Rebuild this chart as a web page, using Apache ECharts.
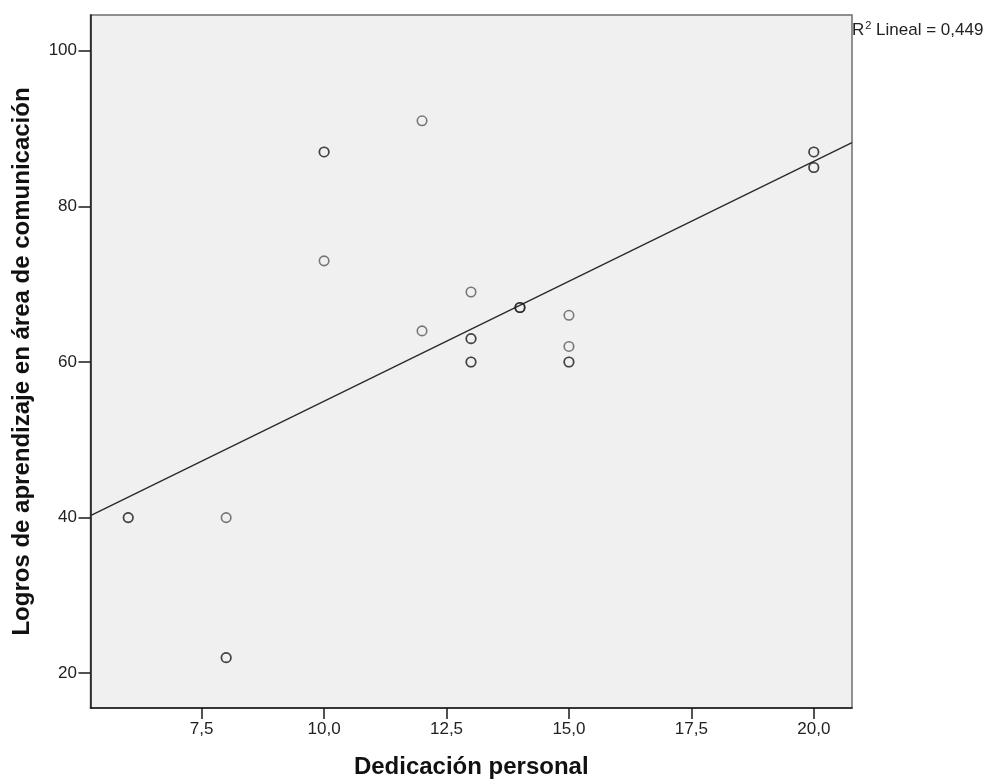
<!DOCTYPE html>
<html>
<head>
<meta charset="utf-8">
<script src="https://cdn.jsdelivr.net/npm/echarts@6/dist/echarts.min.js"></script>
<style>
html,body{margin:0;padding:0;background:#fff;}
#main{width:987px;height:784px;}
</style>
</head>
<body>
<div id="main"></div>
<script>
// Data (repeated entries = overlapping cases)
var dedicacion = [6, 6, 8, 8, 8, 10, 10, 10, 12, 12, 13, 13, 13, 13, 13, 14, 14, 14, 15, 15, 15, 15, 20, 20, 20, 20];
var logros     = [40, 40, 40, 22, 22, 87, 87, 73, 91, 64, 69, 63, 63, 60, 60, 67, 67, 67, 66, 62, 60, 60, 87, 87, 85, 85];
// Fit line endpoints (R² Lineal = 0,449)
var fitX = [5.23, 20.78];
var fitY = [40.25, 88.2];
var xTicks = [7.5, 10, 12.5, 15, 17.5, 20];
var yTicks = [20, 40, 60, 80, 100];
var xRange = [5.23, 20.78];
var yRange = [15.53, 104.6];
var r2Text = 'Lineal = 0,449';
var xTitle = 'Dedicación personal';
var yTitle = 'Logros de aprendizaje en área de comunicación';

var points = dedicacion.map(function (d, i) { return [d, logros[i]]; });
var fitLine = fitX.map(function (x, i) { return [x, fitY[i]]; });

var chart = echarts.init(document.getElementById('main'), null, {renderer: 'canvas'});
var fontFam = '"Liberation Sans", Arial, sans-serif';
chart.setOption({
  animation: false,
  backgroundColor: '#ffffff',
  grid: {
    left: 90.5, top: 15, right: 135, bottom: 71,
    show: true, backgroundColor: '#f0f0f0', borderColor: '#6e6e6e', borderWidth: 1.5
  },
  xAxis: {
    type: 'value', min: xRange[0], max: xRange[1],
    name: xTitle, nameLocation: 'middle', nameGap: 47,
    nameTextStyle: {fontFamily: fontFam, fontSize: 24, fontWeight: 'bold', color: '#111'},
    axisLine: {show: true, onZero: false, lineStyle: {color: '#1a1a1a', width: 1.5}},
    axisTick: {show: true, customValues: xTicks, length: 11, lineStyle: {color: '#1a1a1a', width: 1.5}},
    axisLabel: {
      customValues: xTicks, margin: 13, fontFamily: fontFam, fontSize: 17, color: '#222',
      formatter: function (v) { return v.toFixed(1).replace('.', ','); }
    },
    splitLine: {show: false}
  },
  yAxis: {
    type: 'value', min: yRange[0], max: yRange[1],
    name: yTitle, nameLocation: 'middle', nameGap: 56,
    nameTextStyle: {fontFamily: fontFam, fontSize: 24, fontWeight: 'bold', color: '#111'},
    axisLine: {show: true, onZero: false, lineStyle: {color: '#1a1a1a', width: 1.5}},
    axisTick: {show: true, customValues: yTicks, length: 12, lineStyle: {color: '#1a1a1a', width: 1.5}},
    axisLabel: {customValues: yTicks, margin: 13.5, fontFamily: fontFam, fontSize: 17, color: '#222'},
    splitLine: {show: false}
  },
  series: [
    {
      type: 'line', data: fitLine, showSymbol: false, symbol: 'none',
      lineStyle: {color: '#2a2a2a', width: 1.4}, z: 2, silent: true
    },
    {
      type: 'scatter', data: points, symbol: 'circle', symbolSize: 9.5,
      itemStyle: {color: 'rgba(0,0,0,0)', borderColor: 'rgba(30,30,30,0.72)', borderWidth: 1.6},
      z: 3
    }
  ],
  graphic: [{
    type: 'text', left: 852, top: 20,
    style: {
      text: '{r|R}{s|2}{t| ' + r2Text + '}',
      rich: {
        r: {fontFamily: fontFam, fontSize: 17, fill: '#222'},
        s: {fontFamily: fontFam, fontSize: 11, fill: '#222', verticalAlign: 'top', padding: [0, 0, 9, 1]},
        t: {fontFamily: fontFam, fontSize: 17, fill: '#222'}
      }
    }
  }]
});
</script>
</body>
</html>
